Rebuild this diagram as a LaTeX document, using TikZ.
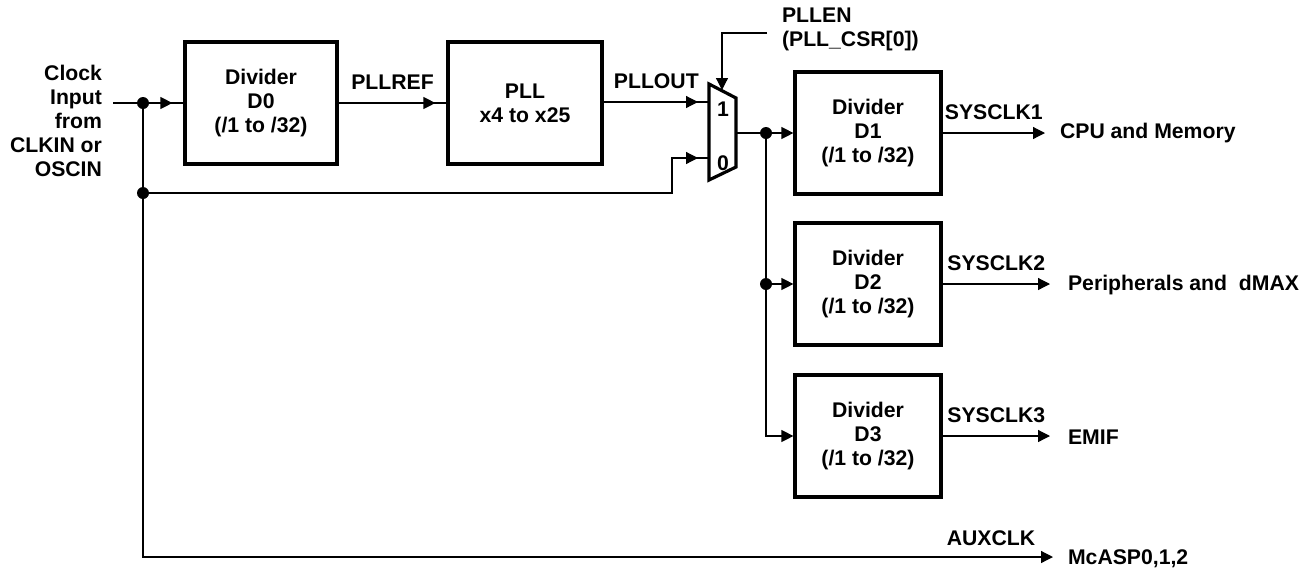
\documentclass[tikz,border=0pt]{standalone}
\usepackage{fontspec}
\setmainfont{Liberation Sans}
\usetikzlibrary{arrows.meta,positioning,calc,decorations.markings}

\begin{document}
\begin{tikzpicture}[
  x=0.5pt,y=-0.5pt,
  every node/.style={font=\fontsize{10.6}{12}\selectfont\bfseries},
  blk/.style={draw,line width=1.6pt,minimum height=61pt,align=center,inner sep=0pt},
  wire/.style={line width=0.6pt},
  arrow/.style={wire,-{Triangle[length=6pt,width=6pt]}},
  gaparrow/.style={wire,postaction={decorate},decoration={markings,mark=at position -5.5pt with {\arrow{Triangle[length=6pt,width=6pt]}}}},
  dot/.style={circle,fill,inner sep=0pt,minimum size=6pt}
]
\useasboundingbox (0,0) rectangle (1307,569);

% blocks
\node[blk,minimum width=76pt] (d0) at (261,103) {Divider\\D0\\(/1 to /32)};
\node[blk,minimum width=77pt] (pll) at (525,103) {PLL\\x4 to x25};
\node[blk,minimum width=73pt] (d1) at (868,133) {Divider\\D1\\(/1 to /32)};
\node[blk,minimum width=73pt] (d2) at (868,284) {Divider\\D2\\(/1 to /32)};
\node[blk,minimum width=73pt] (d3) at (868,436) {Divider\\D3\\(/1 to /32)};

% mux
\draw[line width=1.6pt] (709,84) -- (736,98) -- (736,167) -- (709,180) -- cycle;
\coordinate (mux1) at (709,102);
\coordinate (mux0) at (709,158);
\coordinate (muxout) at (736,133);
\coordinate (muxsel) at (722,90);
\node (in1) at (723,109) {1};
\node (in0) at (723,163) {0};

% texts
\node[anchor=east,align=right] (clkin) at (109,121) {Clock\\Input\\from\\CLKIN or\\OSCIN};
\node[anchor=west,align=left] (pllen) at (775,29) {PLLEN\\(PLL\_CSR[0])};
\node[anchor=west] (cpu) at (1053,133) {CPU and Memory};
\node[anchor=west] (periph) at (1061,285) {Peripherals and\ \ dMAX};
\node[anchor=west] (emif) at (1061,437) {EMIF};
\node[anchor=west] (mcasp) at (1061,559) {McASP0,1,2};
\node (auxclk) at (991,538) {AUXCLK};

% junctions
\node[dot] (j1) at (143,103) {};
\node[dot] (j2) at (143,193) {};
\node[dot] (j4) at (766,133) {};
\node[dot] (j5) at (766,284) {};

\coordinate (src) at (113,103);
\coordinate (bend) at (672,158);
\coordinate (selsrc) at (767,33);
\coordinate (o1) at (1045,133);
\coordinate (o2) at (1050,284);
\coordinate (o3) at (1050,436);
\coordinate (o4) at (1053,557);

\draw[gaparrow] (src) -- (d0);
\draw[gaparrow] (d0) -- node[above=3pt] {PLLREF} (pll);
\draw[gaparrow] (pll.east |- mux1) -- node[above=3pt] {PLLOUT} (mux1);
\draw[wire] (j1) -- (j2);
\draw[gaparrow] (j2) -| (bend) -- (mux0);
\draw[arrow] (j2) |- (o4);
\draw[arrow] (selsrc) -| (muxsel);
\draw[arrow] (muxout) -- (d1);
\draw[wire] (j4) -- (j5);
\draw[arrow] (j5) -- (d2);
\draw[arrow] (j5) |- (d3);
\draw[arrow] (d1) -- node[above=3pt] {SYSCLK1} (o1);
\draw[arrow] (d2.east |- o2) -- node[above=3pt] {SYSCLK2} (o2);
\draw[arrow] (d3) -- node[above=3pt] {SYSCLK3} (o3);
\end{tikzpicture}
\end{document}
